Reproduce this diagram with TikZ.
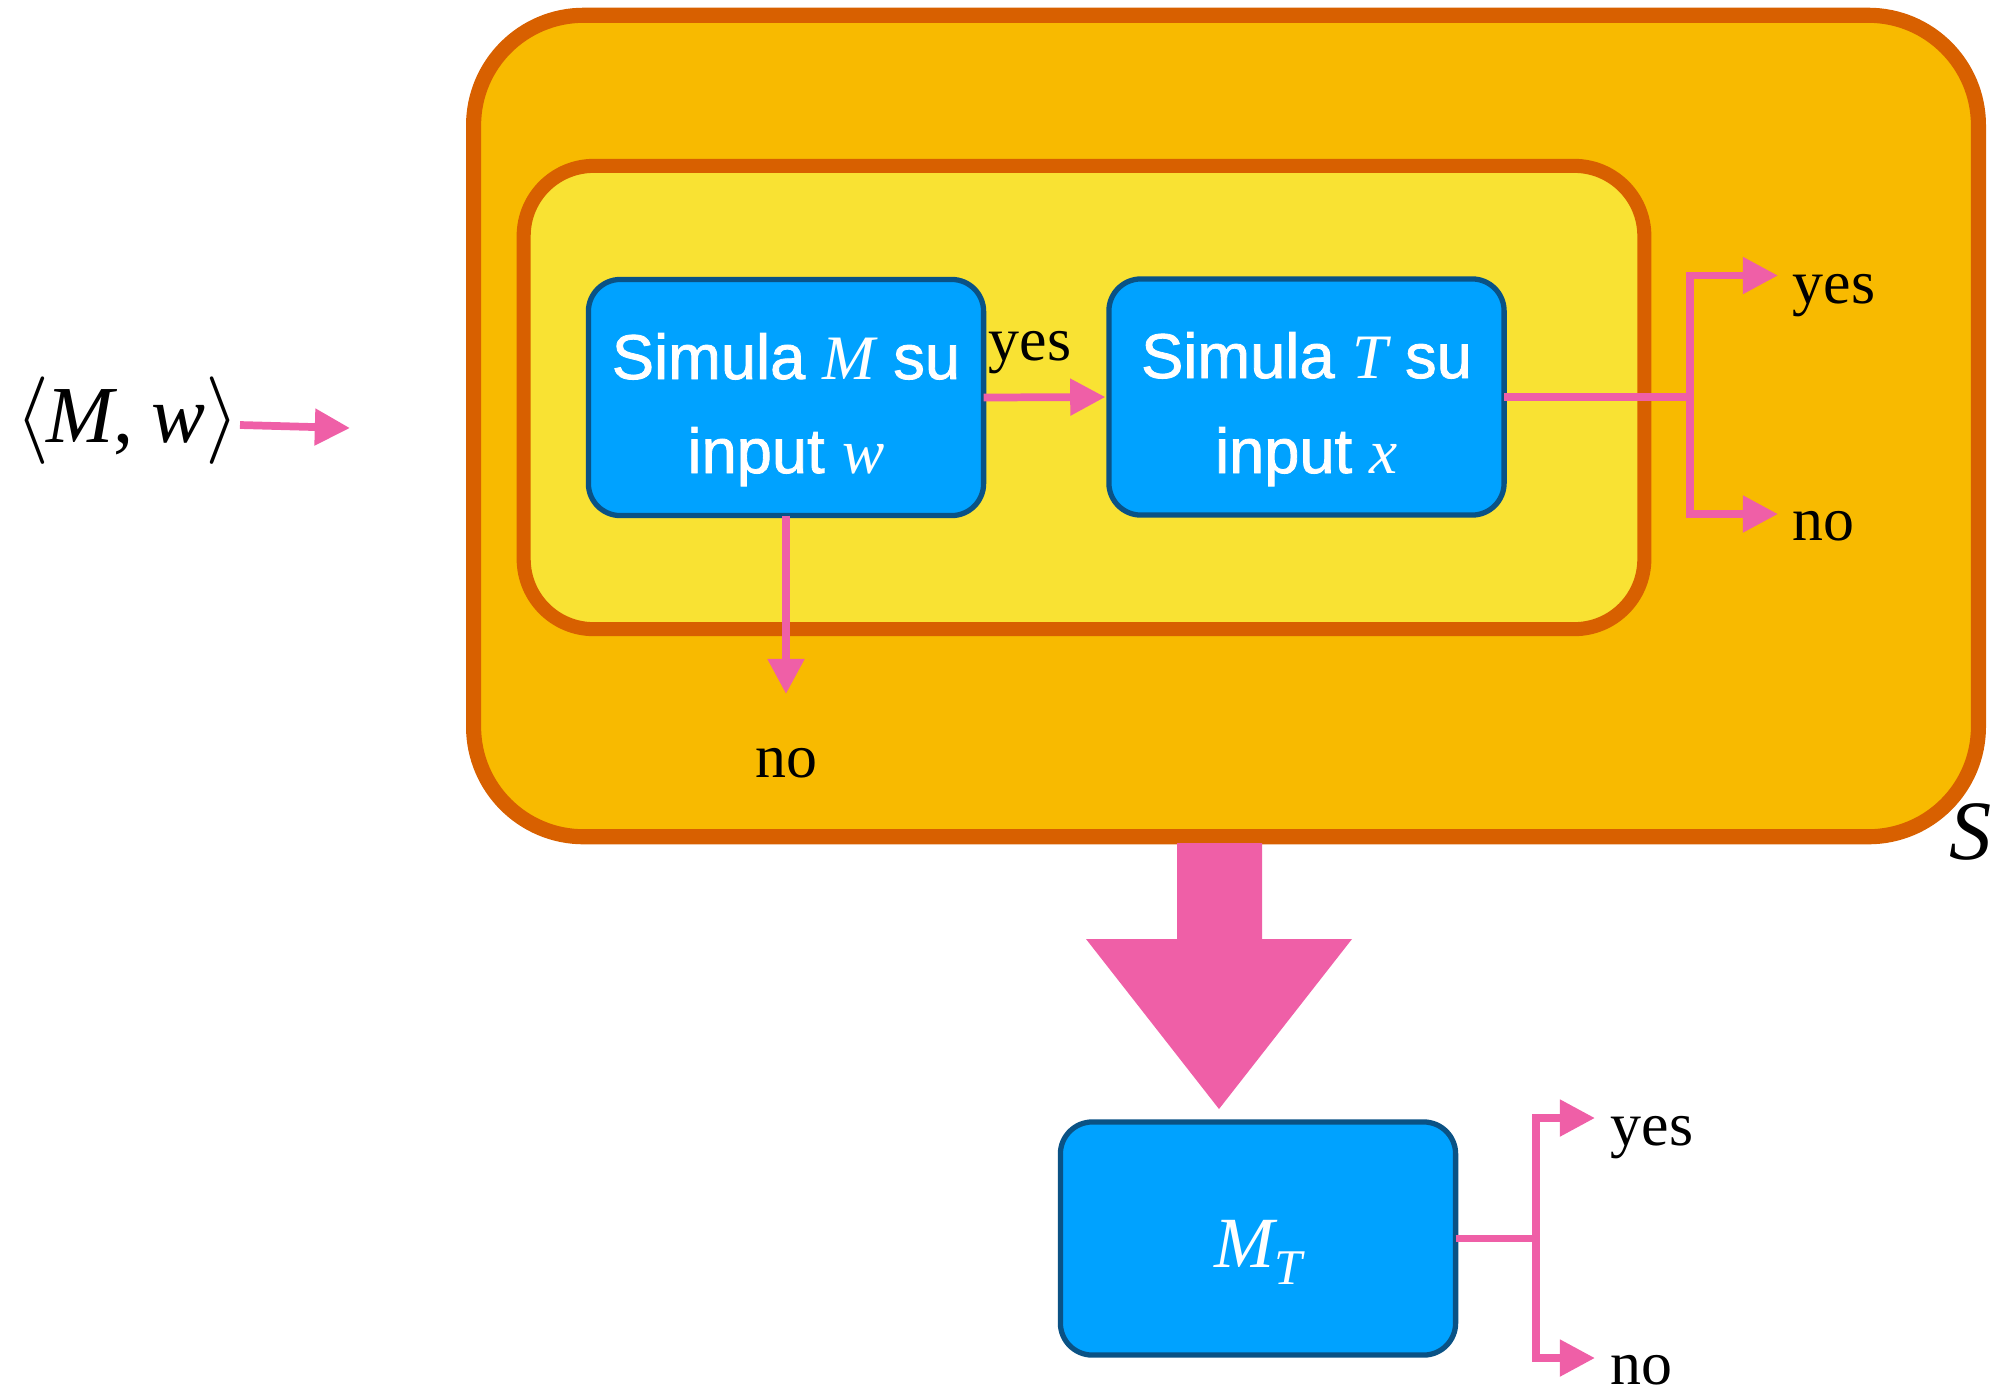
\documentclass[tikz,border=0pt]{standalone}
\usepackage{fontspec}
\setmainfont{Liberation Serif}
\newfontfamily\boxfont[FakeBold=1.3]{Liberation Sans}
\usetikzlibrary{arrows.meta}
\definecolor{outerfill}{HTML}{F8BA00}
\definecolor{rimorange}{HTML}{D86000}
\definecolor{innerfill}{HTML}{F9E233}
\definecolor{stepfill}{HTML}{00A2FF}
\definecolor{stepedge}{HTML}{0A5285}
\definecolor{flowpink}{HTML}{EF5FA7}

\begin{document}
\begin{tikzpicture}[x=0.01cm,y=-0.01cm,
  outerbox/.style={draw=rimorange, fill=outerfill, line width=4.3pt,
    rounded corners=1.1cm, minimum width=15.04cm, minimum height=8.21cm,
    inner sep=0pt, outer sep=0pt},
  innerbox/.style={draw=rimorange, fill=innerfill, line width=4pt,
    rounded corners=0.7cm, minimum width=11.2cm, minimum height=4.63cm,
    inner sep=0pt, outer sep=0pt},
  stepbox/.style={draw=stepedge, fill=stepfill, line width=1.5pt,
    rounded corners=0.32cm, minimum width=3.95cm, minimum height=2.36cm,
    inner sep=0pt, outer sep=0pt},
  steptext/.style={text=white, font=\boxfont\fontsize{18}{22}\selectfont,
    inner sep=0pt, anchor=base},
  lbl/.style={font=\fontsize{17.6}{20}\selectfont, inner sep=0pt},
  flow/.style={draw=flowpink, line width=2.2pt, line join=miter},
  flowtip/.style={flow, -{Triangle[length=10pt,width=10pt]}},
]
\useasboundingbox (0,0) rectangle (2000,1393);

% machine S and its inner stage
\node[outerbox] (S) at (1226,426) {};
\node[innerbox] (I) at (1084,397.5) {};
\node[inner sep=0pt, anchor=base, font=\fontsize{24}{28}\selectfont\itshape] (Slbl) at (1971,859) {S};

% the two simulation steps
\node[stepbox] (A) at (786,397.5) {};
\node[steptext] (A1) at (786,379) {Simula {\rmfamily\itshape M} su};
\node[steptext] (A2) at (786,473) {input {\rmfamily\itshape w}};

\node[stepbox] (B) at (1306.5,397) {};
\node[steptext] (B1) at (1306.5,378) {Simula {\rmfamily\itshape T} su};
\node[steptext] (B2) at (1306.5,473) {input {\rmfamily\itshape x}};

% input
\node[inner sep=0pt, anchor=east, font=\fontsize{23}{26}\selectfont] (in) at (240,421)
  {$\langle$\kern-1pt{\itshape M},\kern5pt{\itshape w}$\rangle$};
\coordinate (inTip) at (350,428);
\draw[flowtip] ([yshift=-0.04cm]in.east) -- (inTip);

% A -> B, A -> no
\draw[flowtip, shorten >=1pt] (A.east) -- (B.west);
\node[lbl, anchor=base] (yA) at (1030,360) {yes};
\coordinate (Ano) at (786,694);
\draw[flowtip] (A.south) -- (Ano);
\node[lbl, anchor=base] (nA) at (786,777) {no};

% B -> yes / no
\coordinate (Bj) at (1690,397);
\coordinate (Byes) at (1778,275.5);
\coordinate (Bno) at (1778,514);
\draw[flow] (B.east) -- (Bj);
\draw[flowtip] (Bj) |- (Byes);
\draw[flowtip] (Bj) |- (Bno);
\node[lbl, anchor=base west] (yB) at (1792,303) {yes};
\node[lbl, anchor=base west] (nB) at (1792,540) {no};

% reduction arrow
\fill[flowpink] (1177,843) -- (1177,939) -- (1086,939) -- (1219,1109)
  -- (1352,939) -- (1262,939) -- (1262,843) -- cycle;

% resulting machine M_T
\node[stepbox, minimum height=2.33cm] (MT) at (1258,1238.5) {};
\node[text=white, inner sep=0pt, anchor=base, font=\fontsize{20.5}{24}\selectfont\itshape] (MTl)
  at (1258,1267) {M\raisebox{-5pt}{\fontsize{14.2}{16}\selectfont T}};
\coordinate (Mj) at (1536,1238.5);
\coordinate (Myes) at (1595,1118);
\coordinate (Mno) at (1595,1358);
\draw[flow] (MT.east) -- (Mj);
\draw[flowtip] (Mj) |- (Myes);
\draw[flowtip] (Mj) |- (Mno);
\node[lbl, anchor=base west] (yM) at (1610,1145) {yes};
\node[lbl, anchor=base west] (nM) at (1610,1384) {no};
\end{tikzpicture}
\end{document}
